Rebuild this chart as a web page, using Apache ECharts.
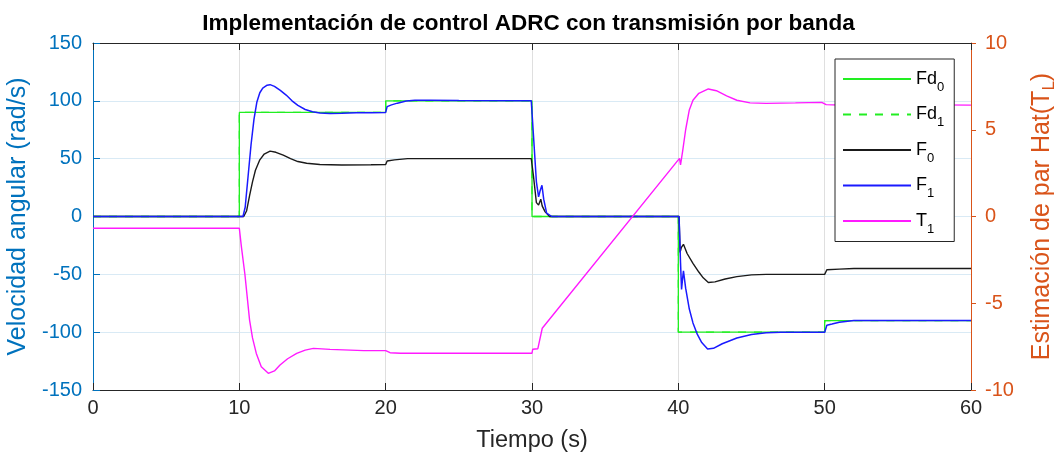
<!DOCTYPE html>
<html>
<head>
<meta charset="utf-8">
<script src="https://cdn.jsdelivr.net/npm/echarts@6/dist/echarts.min.js"></script>
<style>html,body{margin:0;padding:0;background:#fff;}#c{width:1057px;height:459px;}</style>
</head>
<body>
<div id="c"></div>
<script>
// ---- data (time in s, value) ----
const xTicks = [0, 10, 20, 30, 40, 50, 60];
const leftTicks = [-150, -100, -50, 0, 50, 100, 150];
const rightTicks = [-10, -5, 0, 5, 10];

const fd0Points = [[0,0],[10,0],[10,90],[20,90],[20,100],[30,100],[30,0],[40,0],[40,-100],[50,-100],[50,-90],[60,-90]];
const fd1Points = [[0,0],[10,0],[10,90],[20,90],[20,100],[30,100],[30,0],[40,0],[40,-100],[50,-100],[50,-90],[60,-90]];

const f0Points = [[0,0],[10.3,0],[10.5,5],[10.7,18],[10.9,30],[11.1,40],[11.4,49],[11.7,54],[12.1,56.5],[12.5,55.5],[13,53],[13.5,50],[14,47.5],[14.6,46],[15.5,45],[17,44.5],[19,44.8],[20,45],[20.1,48],[20.6,49],[21.5,50],[25,50],[29.95,50],[30.1,35],[30.3,12],[30.45,10],[30.6,15],[30.7,9],[30.9,4],[31.2,0],[40.05,0],[40.12,-31],[40.2,-27],[40.35,-24],[40.6,-32],[41.0,-40.5],[41.4,-48],[41.7,-53],[42.05,-57],[42.5,-56.5],[43.2,-54],[44,-52],[45,-50.5],[46,-50],[50,-50],[50.05,-49],[50.15,-46],[51,-45.5],[52,-45],[60,-45]];

const f1Points = [[0,0],[10.25,0],[10.4,8],[10.6,35],[10.8,62],[11.0,84],[11.2,99],[11.4,107],[11.6,111],[11.9,113.5],[12.1,114],[12.4,112.5],[12.8,109],[13.2,105],[13.6,100],[14.0,96],[14.5,92.5],[15.0,90.5],[15.5,89.5],[16.2,89],[17,89.2],[18,89.6],[19,89.8],[20.0,90],[20.1,95],[20.4,96.5],[20.8,98],[21.4,99.8],[22,100.5],[23,100.5],[25,100.2],[29.95,100],[30.1,70],[30.3,30],[30.45,17],[30.55,22],[30.68,27],[30.8,15],[31.0,3],[31.35,0],[40.05,0],[40.15,-40],[40.22,-63],[40.28,-55],[40.35,-47],[40.5,-62],[40.75,-80],[41.0,-92],[41.3,-102],[41.6,-109],[42.0,-114.5],[42.4,-114],[43,-110],[44,-105],[45,-102],[46,-100.5],[47,-100],[50,-100],[50.05,-99.5],[50.15,-94],[50.5,-93],[51,-91.5],[52,-90],[60,-90]];

const t1Points = [[0,-0.68],[10,-0.68],[10.14,-1.74],[10.38,-3.33],[10.7,-5.97],[10.9,-7.0],[11.16,-7.89],[11.5,-8.66],[11.98,-9.04],[12.4,-8.9],[12.78,-8.56],[13.3,-8.2],[13.92,-7.89],[14.5,-7.7],[15.06,-7.6],[16.2,-7.66],[18.5,-7.73],[20,-7.73],[20.3,-7.85],[21,-7.88],[25,-7.88],[30,-7.88],[30.05,-7.65],[30.4,-7.62],[30.7,-6.44],[40.08,3.35],[40.15,2.97],[40.3,3.8],[40.5,5.0],[40.75,6.14],[41.0,6.7],[41.4,7.1],[42.05,7.35],[42.6,7.25],[43.3,6.95],[44,6.7],[44.9,6.55],[46,6.52],[48,6.55],[49.8,6.58],[50.1,6.45],[51,6.43],[55,6.45],[60,6.42]];

const leftColor = '#0072BD';
const rightColor = '#D95319';
const font = 'Liberation Sans, Arial, sans-serif';

const chart = echarts.init(document.getElementById('c'));
chart.setOption({
  animation: false,
  backgroundColor: '#fff',
  textStyle: { fontFamily: font },
  title: {
    text: 'Implementación de control ADRC con transmisión por banda',
    left: 'center', top: 7,
    textStyle: { fontSize: 22.5, fontWeight: 'bold', color: '#000', fontFamily: font }
  },
  grid: { left: 93, right: 86, top: 43, bottom: 69, containLabel: false, outerBoundsMode: 'none' },
  legend: {
    orient: 'vertical', left: 835, top: 59,
    padding: [11, 10, 6, 7],
    itemWidth: 68, itemHeight: 14, itemGap: 12,
    backgroundColor: '#fff', borderColor: '#262626', borderWidth: 1, borderRadius: 0,
    itemStyle: { opacity: 0 },
    data: ['Fd0','Fd1','F0','F1','T1'],
    formatter: function (n) { return n.replace(/^(\D+)(\d)$/, '{b|$1}{s|$2}'); },
    textStyle: {
      color: '#000', fontFamily: font,
      rich: {
        b: { fontSize: 18, color: '#000', fontFamily: font },
        s: { fontSize: 13, color: '#000', fontFamily: font, padding: [16, 0, 0, 0] }
      }
    }
  },
  xAxis: [{
    type: 'value', min: 0, max: 60, interval: 10, position: 'bottom',
    name: 'Tiempo (s)', nameLocation: 'middle', nameGap: 39,
    nameTextStyle: { fontSize: 23.5, color: '#262626', fontFamily: font },
    axisLine: { show: true, onZero: false, lineStyle: { color: '#262626', width: 1 } },
    axisTick: { show: true, inside: true, length: 7, lineStyle: { color: '#262626' } },
    axisLabel: { fontSize: 20, color: '#262626', margin: 8, fontFamily: font },
    splitLine: { show: true, lineStyle: { color: '#dfdfdf', width: 1 } }
  }, {
    type: 'value', min: 0, max: 60, interval: 10, position: 'top',
    axisLine: { show: true, onZero: false, lineStyle: { color: '#262626', width: 1 } },
    axisTick: { show: true, inside: true, length: 7, lineStyle: { color: '#262626' } },
    axisLabel: { show: false },
    splitLine: { show: false }
  }],
  yAxis: [{
    type: 'value', min: -150, max: 150, interval: 50, position: 'left',
    name: 'Velocidad angular (rad/s)', nameLocation: 'middle', nameGap: 62, nameRotate: 90,
    nameTextStyle: { fontSize: 25, color: leftColor, fontFamily: font },
    axisLine: { show: true, onZero: false, lineStyle: { color: leftColor, width: 1 } },
    axisTick: { show: true, inside: true, length: 7, lineStyle: { color: leftColor } },
    axisLabel: { fontSize: 20, color: leftColor, margin: 11, fontFamily: font },
    splitLine: { show: true, lineStyle: { color: '#d9eaf5', width: 1 } }
  }, {
    type: 'value', min: -10, max: 10, interval: 5, position: 'right',
    name: '{a|Estimación de par Hat(T}{s|L}{a|)}', nameLocation: 'middle', nameGap: 55, nameRotate: 90,
    nameTextStyle: {
      fontSize: 25, color: rightColor, fontFamily: font,
      rich: {
        a: { fontSize: 25, color: rightColor, fontFamily: font },
        s: { fontSize: 17, color: rightColor, fontFamily: font, padding: [15, 0, 0, 0] }
      }
    },
    axisLine: { show: true, onZero: false, lineStyle: { color: rightColor, width: 1 } },
    axisTick: { show: true, inside: false, length: 5, lineStyle: { color: rightColor } },
    axisLabel: { fontSize: 20, color: rightColor, margin: 14, fontFamily: font },
    splitLine: { show: false }
  }],
  series: [
    { name: 'Fd0', type: 'line', data: fd0Points, symbol: 'none', lineStyle: { color: '#22ee22', width: 1.3 }, itemStyle: { color: '#22ee22' } },
    { name: 'Fd1', type: 'line', data: fd1Points, symbol: 'none', lineStyle: { color: '#22ee22', width: 1.3, type: [8, 8] }, itemStyle: { color: '#22ee22' } },
    { name: 'F0', type: 'line', data: f0Points, symbol: 'none', lineStyle: { color: '#1a1a1a', width: 1.4 }, itemStyle: { color: '#1a1a1a' } },
    { name: 'F1', type: 'line', data: f1Points, symbol: 'none', lineStyle: { color: '#1a1aff', width: 1.5 }, itemStyle: { color: '#1a1aff' } },
    { name: 'T1', type: 'line', yAxisIndex: 1, data: t1Points, symbol: 'none', lineStyle: { color: '#ff1aff', width: 1.4 }, itemStyle: { color: '#ff1aff' } }
  ]
});
</script>
</body>
</html>
